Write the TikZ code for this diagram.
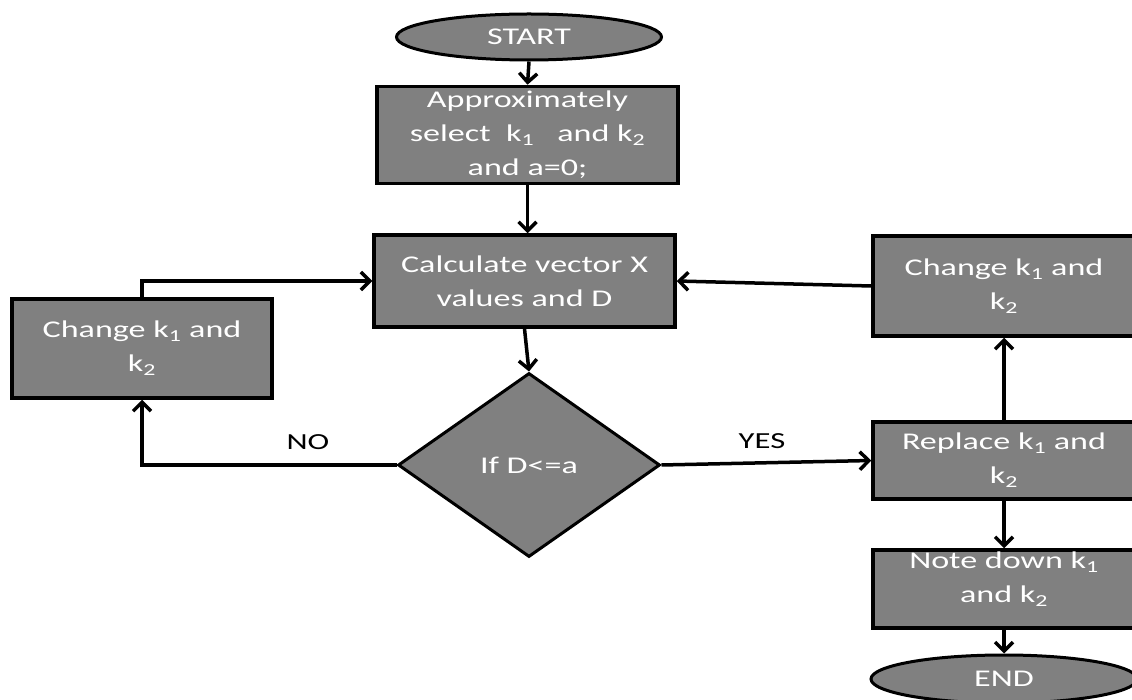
\documentclass[tikz,border=0pt]{standalone}
\usepackage{fontspec}
\setmainfont{Carlito}[FakeStretch=1.42]
\usetikzlibrary{shapes.geometric,arrows.meta}
\definecolor{boxgray}{RGB}{128,128,128}
\tikzset{
  x=1pt,y=-1pt,
  every node/.style={font=\fontsize{24}{34}\selectfont},
  procbox/.style={draw=black,line width=3.5pt,fill=boxgray,text=white,align=center,inner sep=2pt,rectangle},
  termbox/.style={draw=black,line width=3pt,fill=boxgray,text=white,ellipse,inner sep=0pt},
  decbox/.style={draw=black,line width=3pt,fill=boxgray,text=white,diamond,inner sep=0pt},
  conn/.style={line width=3.5pt,-{Straight Barb[length=9pt,width=18pt,line width=3.5pt]}},
  lbl/.style={text=black,font=\fontsize{23}{26}\selectfont}
}
\begin{document}
\begin{tikzpicture}
\useasboundingbox (0,0) rectangle (1132,700);
\node[termbox,minimum width=265pt,minimum height=46pt] (start) at (529,37) {START};
\node[procbox,minimum width=301pt,minimum height=97pt] (approx) at (527.5,135) {Approximately\\select\ \ k\textsubscript{1}\ \ \ and k\textsubscript{2}\\and a=0;};
\node[procbox,minimum width=301pt,minimum height=92pt] (calc) at (524.5,281) {Calculate vector X\\values and D};
\node[decbox,minimum width=262pt,minimum height=184pt] (dia) at (529,465) {If D<=a};
\node[procbox,minimum width=260pt,minimum height=99pt] (lchange) at (142,348.5) {Change k\textsubscript{1} and\\k\textsubscript{2}};
\node[procbox,minimum width=262pt,minimum height=100pt] (rchange) at (1004,286) {Change k\textsubscript{1} and\\k\textsubscript{2}};
\node[procbox,minimum width=262pt,minimum height=77pt] (replace) at (1004,460.5) {Replace k\textsubscript{1} and\\k\textsubscript{2}};
\node[procbox,minimum width=262pt,minimum height=78pt,inner sep=0pt,text depth=24pt] (note) at (1004,589) {Note down k\textsubscript{1}\\and k\textsubscript{2}};
\node[termbox,minimum width=266pt,minimum height=48pt] (end) at (1004,679) {END};
\node[lbl] (no) at (308,442) {NO};
\node[lbl] (yes) at (762,441) {YES};
\draw[conn] (start.south) -- (approx.north);
\draw[conn] (approx.south) -- (approx.south |- calc.north);
\draw[conn] (calc.south) -- (dia.north);
\draw[conn] (dia.west) -| (lchange.south);
\draw[conn] (lchange.north) |- (calc.west);
\draw[conn] (rchange.west) -- (calc.east);
\draw[conn] (dia.east) -- (replace.west);
\draw[conn] (replace.north) -- (rchange.south);
\draw[conn] (replace.south) -- (note.north);
\draw[conn] (note.south) -- (end.north);
\end{tikzpicture}
\end{document}
